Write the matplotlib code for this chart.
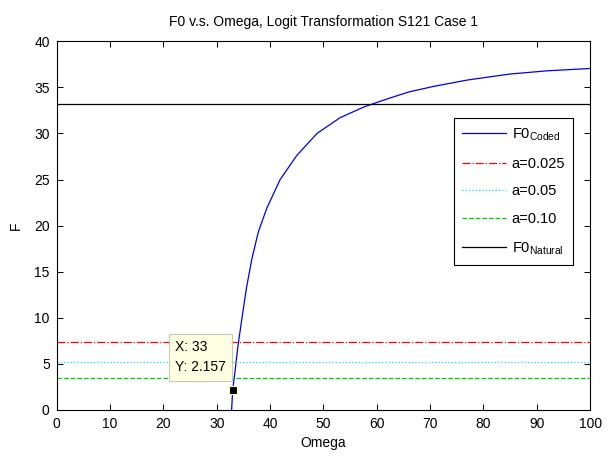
import matplotlib
matplotlib.use("Agg")
import matplotlib.pyplot as plt

# coded F0 curve, read along omega
omega = [32.8, 33.0, 33.4, 34.0, 34.9, 35.6, 36.6, 37.8, 39.4, 41.9, 45.0,
         48.8, 53.1, 57.5, 59.7, 62.5, 66.0, 70.6, 77.0, 85.0, 92.0, 100.0]
f0_coded = [0.0, 2.157, 4.0, 7.0, 10.6, 13.3, 16.4, 19.3, 21.9, 25.0, 27.6,
            30.0, 31.7, 32.85, 33.3, 33.85, 34.5, 35.1, 35.8, 36.45, 36.8, 37.05]

# critical values and natural F0 (horizontal reference lines)
alpha_labels = ['a=0.025', 'a=0.05', 'a=0.10']
alpha_values = [7.4, 5.2, 3.5]
f0_natural = 33.2

tip_x, tip_y = 33, 2.157

fam = 'Liberation Sans'
plt.rcParams['font.family'] = [fam, 'DejaVu Sans']
plt.rcParams['mathtext.fontset'] = 'custom'
plt.rcParams['mathtext.rm'] = fam
plt.rcParams['mathtext.it'] = fam
plt.rcParams['font.size'] = 10

fig = plt.figure(figsize=(6.09, 4.59), dpi=100)
ax = fig.add_axes([0.093, 0.107, 0.876, 0.803])

ax.plot(omega, f0_coded, color='#0000ee', lw=0.9, label='F0$_{\\mathrm{Coded}}$')
styles = [('-.', '#ff0000'), (':', '#00e5ff'), ('--', '#00cc00')]
for lab, val, (ls, col) in zip(alpha_labels, alpha_values, styles):
    ax.axhline(val, color=col, ls=ls, lw=0.9, label=lab)
ax.axhline(f0_natural, color='black', lw=0.9, label='F0$_{\\mathrm{Natural}}$')

# data tip
ax.plot([tip_x], [tip_y], 's', color='black', ms=6, mec='#ffffcc', mew=0.8)
ax.annotate('X: %g\nY: %.3f' % (tip_x, tip_y), xy=(tip_x, tip_y),
            xytext=(22.2, 3.85), fontsize=10, va='bottom', ha='left',
            linespacing=1.6,
            bbox=dict(boxstyle='square,pad=0.45', fc='#ffffe1', ec='#c8c8b4', lw=0.8))

ax.set_xlim(0, 100)
ax.set_ylim(0, 40)
ax.set_xticks(range(0, 101, 10))
ax.set_yticks(range(0, 41, 5))
ax.tick_params(direction='in', top=True, right=True, length=4, width=0.7, pad=5)
for s in ax.spines.values():
    s.set_linewidth(0.8)

ax.set_title('F0 v.s. Omega, Logit Transformation S121 Case 1', fontsize=10, pad=11)
ax.set_xlabel('Omega', labelpad=4)
ax.set_ylabel('F', labelpad=8)

leg = ax.legend(loc='upper right', bbox_to_anchor=(0.968, 0.791), borderaxespad=0,
                fancybox=False, edgecolor='black', framealpha=1, handlelength=3.0,
                handletextpad=0.4, labelspacing=0.95, borderpad=0.55, fontsize=10.5)
leg.get_frame().set_linewidth(0.8)

fig.savefig('out.png', dpi=100)
